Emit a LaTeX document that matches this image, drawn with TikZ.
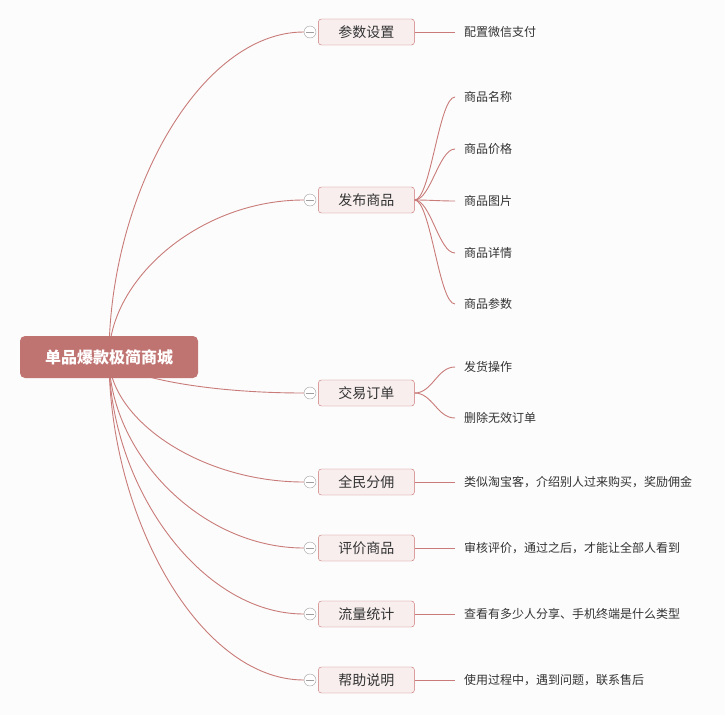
\documentclass[tikz,border=0pt]{standalone}
\usepackage{fontspec}
\setmainfont{Noto Sans CJK SC}
\usetikzlibrary{positioning,backgrounds}
\definecolor{bgcol}{HTML}{FCFCFC}
\definecolor{rootcol}{HTML}{C07472}
\definecolor{topicfill}{HTML}{F8EEEE}
\definecolor{topicline}{HTML}{C9706F}
\definecolor{linkcol}{HTML}{C97B79}
\definecolor{foldcol}{HTML}{9E9E9E}
\definecolor{textcol}{HTML}{333333}
\tikzset{
  root/.style={rectangle, rounded corners=5pt, fill=rootcol, text=white,
    minimum width=178pt, minimum height=42pt, inner sep=0pt,
    font=\fontsize{16}{18}\selectfont\bfseries},
  topic/.style={rectangle, rounded corners=3pt, draw=topicline, fill=topicfill,
    text=textcol, minimum width=96pt, minimum height=26pt, inner sep=0pt,
    font=\fontsize{14}{16}\selectfont},
  fold/.style={circle, draw=foldcol, fill=white, minimum size=12pt, inner sep=0pt,
    path picture={\draw[foldcol] ([xshift=-4pt]path picture bounding box.center)
      -- ([xshift=4pt]path picture bounding box.center);}},
  leaf/.style={anchor=west, inner xsep=9pt, inner ysep=2pt, text=textcol,
    font=\fontsize{12}{14}\selectfont},
  link/.style={draw=linkcol, line width=0.9pt}
}
\begin{document}
\begin{tikzpicture}[x=1pt, y=-1pt]
    \useasboundingbox (0,0) rectangle (725,715);

    % main topic
    \node[root] (root) at (109,357) {单品爆款极简商城};

    % branches
    \node[fold] (f1) at (310,32) {};
    \node[topic, right=2pt of f1] (b1) {参数设置};
    \node[fold] (f2) at (310,200) {};
    \node[topic, right=2pt of f2] (b2) {发布商品};
    \node[fold] (f3) at (310,393) {};
    \node[topic, right=2pt of f3] (b3) {交易订单};
    \node[fold] (f4) at (310,482) {};
    \node[topic, right=2pt of f4] (b4) {全民分佣};
    \node[fold] (f5) at (310,548) {};
    \node[topic, right=2pt of f5] (b5) {评价商品};
    \node[fold] (f6) at (310,614) {};
    \node[topic, right=2pt of f6] (b6) {流量统计};
    \node[fold] (f7) at (310,680) {};
    \node[topic, right=2pt of f7] (b7) {帮助说明};

    % leaves
    \node[leaf] (l1) at (455,32) {配置微信支付};
    \node[leaf] (l21) at (455,97) {商品名称};
    \node[leaf] (l22) at (455,149) {商品价格};
    \node[leaf] (l23) at (455,201) {商品图片};
    \node[leaf] (l24) at (455,253) {商品详情};
    \node[leaf] (l25) at (455,304) {商品参数};
    \node[leaf] (l31) at (455,367) {发货操作};
    \node[leaf] (l32) at (455,418) {删除无效订单};
    \node[leaf] (l4) at (455,482) {类似淘宝客，介绍别人过来购买，奖励佣金};
    \node[leaf] (l5) at (455,548) {审核评价，通过之后，才能让全部人看到};
    \node[leaf] (l6) at (455,614) {查看有多少人分享、手机终端是什么类型};
    \node[leaf] (l7) at (455,680) {使用过程中，遇到问题，联系售后};

    \begin{scope}[on background layer]
    \fill[bgcol] (0,0) rectangle (725,715);
    % root to branches
    \draw[link] (root.center) .. controls +(0,-162) and +(-104,0) .. (f1.west);
    \draw[link] (root.center) .. controls +(0,-78) and +(-104,0) .. (f2.west);
    \draw[link] (root.center) .. controls +(8,18) and +(-104,0) .. (f3.west);
    \draw[link] (root.center) .. controls +(0,62) and +(-104,0) .. (f4.west);
    \draw[link] (root.center) .. controls +(0,95) and +(-104,0) .. (f5.west);
    \draw[link] (root.center) .. controls +(0,128) and +(-104,0) .. (f6.west);
    \draw[link] (root.center) .. controls +(0,161) and +(-104,0) .. (f7.west);
    % branches to leaves
    \draw[link] (b1.east) -- (l1.west);
    \foreach \i in {1,...,5}
      \draw[link] (b2.east) .. controls +(16,0) and +(-16,0) .. (l2\i.west);
    \foreach \i in {1,2}
      \draw[link] (b3.east) .. controls +(18,0) and +(-18,0) .. (l3\i.west);
    \draw[link] (b4.east) -- (l4.west);
    \draw[link] (b5.east) -- (l5.west);
    \draw[link] (b6.east) -- (l6.west);
    \draw[link] (b7.east) -- (l7.west);
    \end{scope}
\end{tikzpicture}
\end{document}
